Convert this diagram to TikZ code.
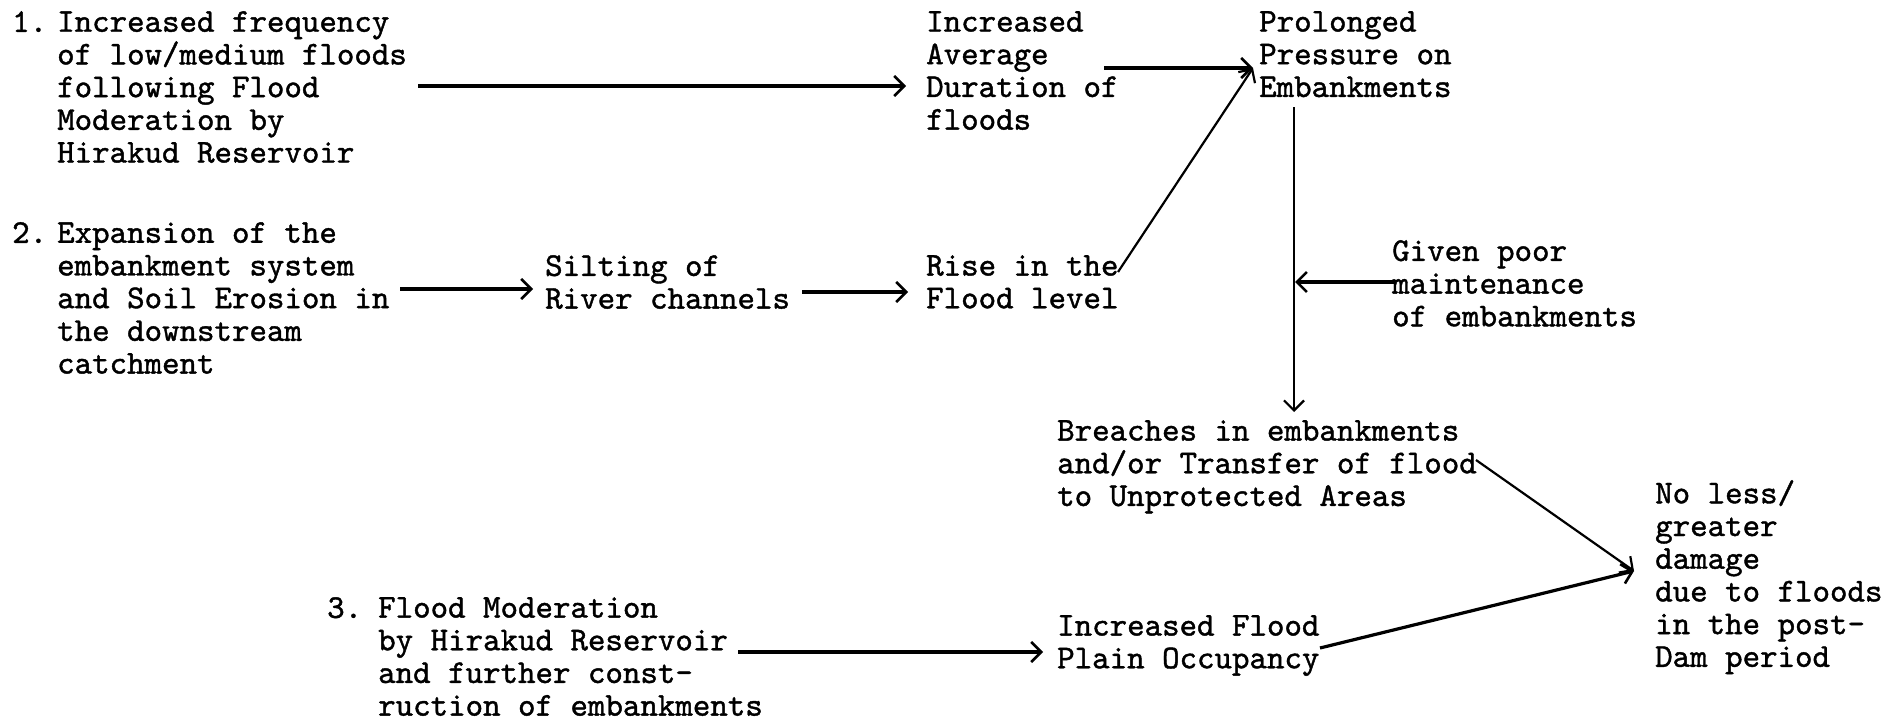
\documentclass[tikz,border=0pt]{standalone}
\usepackage{fontspec}
\newfontfamily\tw{lmmono10-regular.otf}[FakeBold=1.2]
\usetikzlibrary{arrows.meta}
\begin{document}
\begin{tikzpicture}[x=1pt,y=-1pt,
  txt/.style={anchor=north west,inner sep=0pt,align=left,
    font=\tw\fontsize{33.3}{32.7}\selectfont},
  arr/.style={line width=3.2pt,-{Straight Barb[length=10pt,width=20pt,line width=2.6pt]}},
  thinarr/.style={line width=2.2pt,-{Straight Barb[length=10pt,width=20pt,line width=2.2pt]}}]
\fill[white] (0,0) rectangle (1898,720);
\useasboundingbox (0,0) rectangle (1898,720);
% nodes
\node[txt] (num1) at (12,11) {1.};
\node[txt] (t1) at (57,11) {Increased frequency\\of low/medium floods\\following Flood\\Moderation by\\Hirakud Reservoir};
\node[txt] (dur) at (926,11) {Increased\\Average\\Duration of\\floods};
\node[txt] (pres) at (1259,11) {Prolonged\\Pressure on\\Embankments};
\node[txt] (num2) at (12,222) {2.};
\node[txt] (t2) at (57,222) {Expansion of the\\embankment system\\and Soil Erosion in\\the downstream\\catchment};
\node[txt] (silt) at (545,255) {Silting of\\River channels};
\node[txt] (rise) at (926,255) {Rise in the\\Flood level};
\node[txt] (given) at (1392,240) {Given poor\\maintenance\\of embankments};
\node[txt] (breach) at (1057,420) {Breaches in embankments\\and/or Transfer of flood\\to Unprotected Areas};
\node[txt] (noless) at (1655,480) {No less/\\greater\\damage\\due to floods\\in the post-\\Dam period};
\node[txt] (num3) at (327,597) {3.};
\node[txt] (t3) at (378,597) {Flood Moderation\\by Hirakud Reservoir\\and further const-\\ruction of embankments};
\node[txt] (occ) at (1057,615) {Increased Flood\\Plain Occupancy};
% coordinates
\coordinate (a1s) at (418,86);
\coordinate (a1e) at (906,86);
\coordinate (a2s) at (1104,68);
\coordinate (pin) at (1253,68);
\coordinate (a3s) at (1118,272);
\coordinate (vs) at (1294,107);
\coordinate (ve) at (1294,412);
\coordinate (gs) at (1394,282);
\coordinate (ge) at (1295,282);
\coordinate (ss) at (400,289);
\coordinate (se) at (533,289);
\coordinate (rs) at (802,292);
\coordinate (re) at (908,292);
\coordinate (bs) at (1476,460);
\coordinate (din) at (1634,571);
\coordinate (os) at (1320,648);
\coordinate (ts) at (738,652);
\coordinate (te) at (1043,652);
% connectors
\draw[arr] (a1s) -- (a1e);
\draw[arr] (a2s) -- (pin);
\draw[thinarr] (a3s) -- (pin);
\draw[thinarr] (vs) -- (ve);
\draw[arr] (gs) -- (ge);
\draw[arr] (ss) -- (se);
\draw[arr] (rs) -- (re);
\draw[thinarr] (bs) -- (din);
\draw[arr] (os) -- (din);
\draw[arr] (ts) -- (te);
\end{tikzpicture}
\end{document}
